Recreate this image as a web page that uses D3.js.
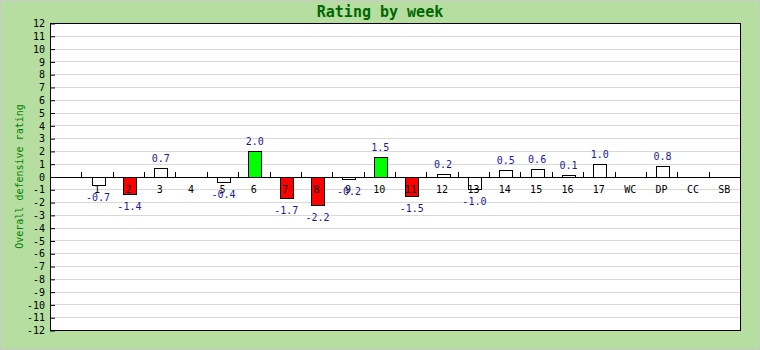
<!DOCTYPE html>
<html>
<head>
<meta charset="utf-8">
<script src="https://cdn.jsdelivr.net/npm/d3@7"></script>
<style>
  html, body { margin: 0; padding: 0; background: #fff; }
  svg { display: block; }
  text { font-family: "DejaVu Sans Mono", monospace; }
</style>
</head>
<body>
<svg id="chart" width="760" height="350"></svg>
<script>
// Weekly defensive rating; the first slot is an unlabeled spacer band.
const weeks = ["", "1", "2", "3", "4", "5", "6", "7", "8", "9", "10", "11", "12",
               "13", "14", "15", "16", "17", "WC", "DP", "CC", "SB"];
const ratings = [null, -0.7, -1.4, 0.7, null, -0.4, 2.0, -1.7, -2.2, -0.2, 1.5, -1.5,
                 0.2, -1.0, 0.5, 0.6, 0.1, 1.0, null, 0.8, null, null];
const yTicks = d3.range(-12, 13, 1);

const W = 760, H = 350;
const plot = { left: 50, right: 740, top: 23, bottom: 330 };

const svg = d3.select("#chart");

// Page background and border
svg.append("rect").attr("x", 0.5).attr("y", 0.5).attr("width", W - 1).attr("height", H - 1)
  .attr("fill", "#b5dea0").attr("stroke", "#c8c8c8").attr("stroke-width", 1);

// Plot area
svg.append("rect").attr("x", plot.left).attr("y", plot.top)
  .attr("width", plot.right - plot.left).attr("height", plot.bottom - plot.top)
  .attr("fill", "#ffffff");

const x = d3.scaleBand().domain(d3.range(weeks.length))
  .range([plot.left, plot.right]).paddingInner(0).paddingOuter(0);
const y = d3.scaleLinear().domain([-12, 12]).range([plot.bottom, plot.top]);

// Horizontal grid lines
svg.append("g").selectAll("line").data(yTicks.filter(t => t !== 0 && Math.abs(t) !== 12))
  .join("line")
  .attr("x1", plot.left).attr("x2", plot.right)
  .attr("y1", d => Math.round(y(d)) + 0.5).attr("y2", d => Math.round(y(d)) + 0.5)
  .attr("stroke", "#d9d9d9").attr("stroke-width", 1);

// Y axis: ticks point inward, labels on the left
const yAxis = d3.axisLeft(y).tickValues(yTicks).tickSize(0).tickPadding(5)
  .tickFormat(d => String(d));
const yg = svg.append("g").attr("transform", `translate(${plot.left},0.5)`).call(yAxis);
yg.select(".domain").remove();
yg.selectAll(".tick text").attr("font-size", 10).attr("fill", "#000")
  .attr("font-family", "DejaVu Sans Mono, monospace");
yg.selectAll(".tick").append("line").attr("x1", 0).attr("x2", 5)
  .attr("stroke", "#000").attr("stroke-width", 1);

// Bars
const zeroY = Math.round(y(0));
const barW = 13;
const barColor = v => v > 1.0 ? "#00ff00" : v < -1.0 ? "#ff0000" : "#ffffff";
const bars = weeks.map((w, i) => ({ i, v: ratings[i] })).filter(d => d.v !== null);

svg.append("g").selectAll("rect").data(bars).join("rect")
  .attr("x", d => Math.round(x(d.i) + x.bandwidth() / 2 - barW / 2) + 1.5)
  .attr("y", d => Math.round(y(Math.max(0, d.v))) + 0.5)
  .attr("width", barW)
  .attr("height", d => Math.abs(Math.round(y(d.v)) - zeroY))
  .attr("fill", d => barColor(d.v))
  .attr("stroke", "#000").attr("stroke-width", 1);

// Zero line and category ticks at band boundaries
svg.append("line").attr("x1", plot.left).attr("x2", plot.right)
  .attr("y1", zeroY + 0.5).attr("y2", zeroY + 0.5).attr("stroke", "#000");
svg.append("g").selectAll("line").data(d3.range(1, weeks.length)).join("line")
  .attr("x1", i => Math.round(x(i)) + 0.5).attr("x2", i => Math.round(x(i)) + 0.5)
  .attr("y1", zeroY - 5).attr("y2", zeroY)
  .attr("stroke", "#000");

// Category labels below the zero line
svg.append("g").selectAll("text").data(weeks.map((w, i) => ({ w, i }))).join("text")
  .attr("x", d => x(d.i) + x.bandwidth() / 2)
  .attr("y", zeroY + 16)
  .attr("text-anchor", "middle").attr("font-size", 10).attr("fill", "#000")
  .text(d => d.w);

// Value labels
svg.append("g").selectAll("text").data(bars).join("text")
  .attr("x", d => x(d.i) + x.bandwidth() / 2 + 1)
  .attr("y", d => d.v >= 0 ? y(d.v) - 6 : y(d.v) + 16)
  .attr("text-anchor", "middle").attr("font-size", 10).attr("fill", "#1a1a9a")
  .text(d => d3.format(".1f")(d.v).replace("−", "-"));

// Plot frame
svg.append("rect").attr("x", plot.left + 0.5).attr("y", plot.top + 0.5)
  .attr("width", plot.right - plot.left).attr("height", plot.bottom - plot.top)
  .attr("fill", "none").attr("stroke", "#000").attr("stroke-width", 1);

// Title
svg.append("text").attr("x", 380).attr("y", 17).attr("text-anchor", "middle")
  .attr("font-size", 15).attr("font-weight", "bold").attr("fill", "#006600")
  .text("Rating by week");

// Y axis title
svg.append("text").attr("transform", `translate(23,${(plot.top + plot.bottom) / 2}) rotate(-90)`)
  .attr("text-anchor", "middle").attr("font-size", 10).attr("fill", "#008000")
  .text("Overall defensive rating");
</script>
</body>
</html>
